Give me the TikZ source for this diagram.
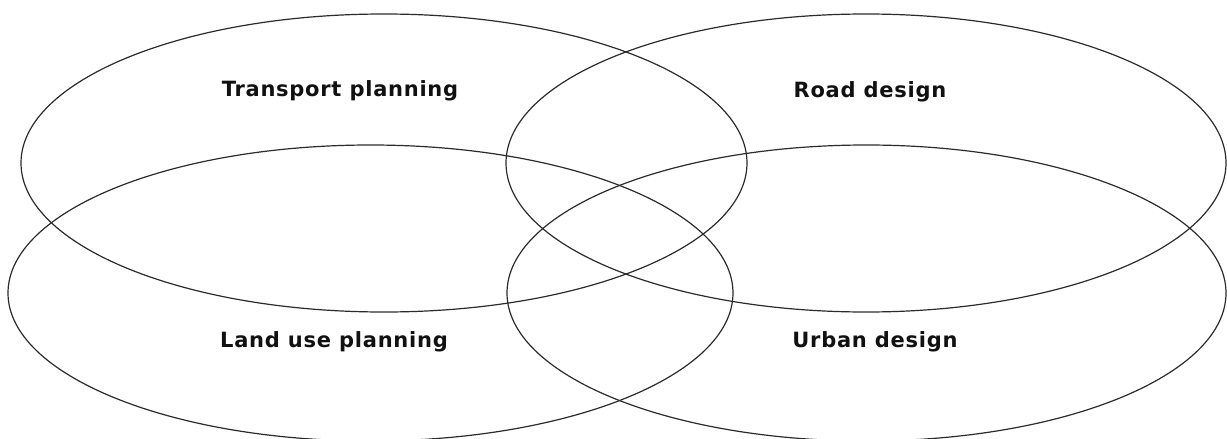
\documentclass[tikz,border=0pt]{standalone}
\usepackage{fontspec}
\usepackage{tikz}
\usetikzlibrary{shapes.geometric,positioning}
\newfontfamily\labelfont[LetterSpace=3.5]{DejaVu Sans}
\definecolor{ink}{HTML}{111111}
\definecolor{rim}{HTML}{2B2B2B}
\tikzset{
  fieldset/.style={ellipse,draw=rim,line width=1.2pt,inner sep=0pt,
    minimum width=#1},
  fieldset/.default=722pt,
  fieldlabel/.style={font=\labelfont\bfseries\fontsize{21}{25}\selectfont,
    text=ink,anchor=base,inner sep=0pt},
}

\begin{document}
\begin{tikzpicture}[x=1pt,y=-1pt]
  \useasboundingbox (0,0) rectangle (1227,439);

  \node[fieldset=726pt, minimum height=298pt] (tp) at (384,163) {};
  \node[fieldset=720pt, minimum height=298pt] (rd) at (866,163) {};
  \node[fieldset=725pt, minimum height=296pt] (lu) at (370.5,293) {};
  \node[fieldset=719pt, minimum height=296pt] (ud) at (866.5,293) {};

  \node[fieldlabel] (tpl) at (340,96) {Transport planning};
  \node[fieldlabel] (rdl) at (870,97) {Road design};
  \node[fieldlabel] (lul) at (334,347) {Land use planning};
  \node[fieldlabel] (udl) at (875,347) {Urban design};
\end{tikzpicture}
\end{document}
